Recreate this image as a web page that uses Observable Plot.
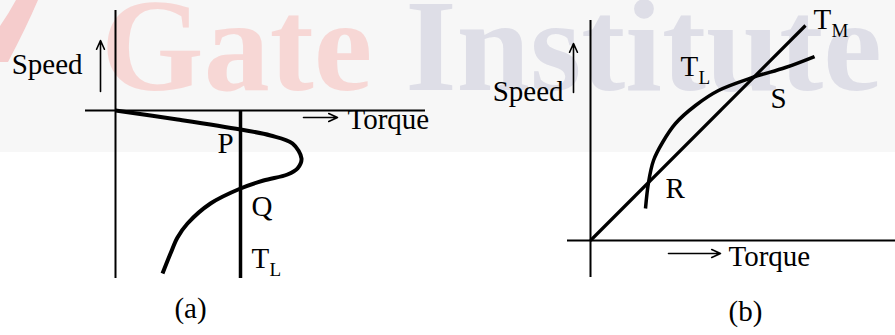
<!DOCTYPE html>
<html>
<head>
<meta charset="utf-8">
<script src="https://cdn.jsdelivr.net/npm/d3@7"></script>
<script src="https://cdn.jsdelivr.net/npm/@observablehq/plot@0.6"></script>
<style>
  html, body { margin: 0; padding: 0; background: #fff; }
  #figure { position: relative; width: 895px; height: 335px; overflow: hidden; }
  #figure > * { position: absolute; top: 0; }
  #figure svg text { font-family: "Liberation Serif", "Times New Roman", serif !important; }
</style>
</head>
<body>
<div id="figure">
  <svg id="backdrop" width="895" height="335" style="left:0">
    <rect width="895" height="152" fill="#f7f7f7"></rect>
    <path d="M16 0 L38 0 Q26 28 8 62 L0 62 L0 26 Q9 13 16 0 Z" fill="#f5cccc"></path>
    <text x="101" y="90" font-weight="bold" font-size="132"><tspan fill="#f7d7d5">Gate</tspan><tspan fill="#dedee7"> Institute</tspan></text>
  </svg>
</div>
<script>
// ---------- Panel (a): motor characteristic crossing a constant load torque ----------
const curveATorque = [0, 6.2, 12.5, 15.5, 17.7, 18.6, 18.2, 17.2, 14.8, 12.5, 9.5, 7.2, 6.2, 5.5, 4.7];
const curveASpeed  = [0, -0.9, -1.9, -2.5, -3.3, -4.8, -5.8, -6.4, -7.0, -7.8, -9.3, -11.3, -12.7, -14.3, -16.3];
const loadTorqueA = 12.5;
const axisATorque = [-3, 31];
const axisASpeed  = [-16.8, 10];

// ---------- Panel (b): straight motor line T_M against a curved load T_L ----------
const motorTorqueB = [0, 21.5];
const motorSpeedB  = [0, 21.5];
const curveBTorque = [5.5, 5.8, 6.3, 7.2, 8.5, 10.5, 12.8, 16.2, 19.5, 22.4];
const curveBSpeed  = [3.2, 5.8, 8.0, 9.8, 11.7, 13.5, 15.0, 16.3, 17.3, 18.4];
const axisBTorque = [-2.3, 30.5];
const axisBSpeed  = [-3.7, 22];

// Labels: text, subscript, torque, speed
const labelsA = [
  {text: "P", sub: "", torque: 10.2, speed: -4.2},
  {text: "Q", sub: "", torque: 13.6, speed: -10.5},
  {text: "T", sub: "L", torque: 13.6, speed: -15.7},
  {text: "Torque", sub: "", torque: 23.2, speed: -1.8}
];
const speedLabelA = [{text: "Speed", torque: -3.3, speed: 3.7}];
const captionA = [{text: "(a)", torque: 7.5, speed: -20.7}];
const arrowsA = [
  {x1: -1.5, y1: 1.9, x2: -1.5, y2: 7.0},
  {x1: 18.8, y1: -0.7, x2: 22.2, y2: -0.7}
];

const labelsB = [
  {text: "T", sub: "M", torque: 22.3, speed: 21.2},
  {text: "T", sub: "L", torque: 9.0, speed: 16.5},
  {text: "S", sub: "", torque: 18.0, speed: 13.3},
  {text: "R", sub: "", torque: 7.5, speed: 4.3},
  {text: "Torque", sub: "", torque: 13.8, speed: -2.5}
];
const speedLabelB = [{text: "Speed", torque: -2.7, speed: 14.0}];
const captionB = [{text: "(b)", torque: 15.5, speed: -8.0}];
const arrowsB = [
  {x1: -1.7, y1: 14.8, x2: -1.7, y2: 19.7},
  {x1: 7.8, y1: -1.3, x2: 13.0, y2: -1.3}
];

const font = "Liberation Serif";
const pts = (xs, ys) => xs.map((t, i) => ({torque: t, speed: ys[i]}));

function textMarks(rows, anchor) {
  return [
    Plot.text(rows, {x: "torque", y: "speed", text: "text", textAnchor: anchor, lineAnchor: "bottom",
      fontFamily: font, fontSize: 29, fill: "#000"}),
    Plot.text(rows.filter(d => d.sub), {x: "torque", y: "speed", text: "sub", textAnchor: "start",
      lineAnchor: "bottom", dx: 18, dy: 8, fontFamily: font, fontSize: 19, fill: "#000"})
  ];
}

function axesMarks(torqueExtent, speedExtent) {
  return [
    Plot.ruleX([0], {y1: speedExtent[0], y2: speedExtent[1], stroke: "#000", strokeWidth: 2}),
    Plot.ruleY([0], {x1: torqueExtent[0], x2: torqueExtent[1], stroke: "#000", strokeWidth: 2})
  ];
}

function arrowMarks(rows) {
  return Plot.arrow(rows, {x1: "x1", y1: "y1", x2: "x2", y2: "y2", stroke: "#000",
    strokeWidth: 1.6, headLength: 9, headAngle: 48});
}

function panel(width, xDomain, yDomain, marks) {
  return Plot.plot({
    width, height: 335, margin: 0,
    x: {domain: xDomain, axis: null},
    y: {domain: yDomain, axis: null},
    style: {background: "transparent", overflow: "visible", fontFamily: "Liberation Serif, serif"},
    marks
  });
}

const plotA = panel(445, [-11.5, 33], [-22.5, 11], [
  ...axesMarks(axisATorque, axisASpeed),
  Plot.ruleX([loadTorqueA], {y1: axisASpeed[0], y2: 0, stroke: "#000", strokeWidth: 3.5}),
  Plot.line(pts(curveATorque, curveASpeed), {x: "torque", y: "speed", curve: "catmull-rom",
    stroke: "#000", strokeWidth: 4, strokeLinecap: "butt"}),
  arrowMarks(arrowsA),
  ...textMarks(labelsA, "start"),
  ...textMarks(speedLabelA, "end"),
  ...textMarks(captionA, "middle")
]);

const plotB = panel(450, [-14.5, 30.5], [-9.5, 24], [
  ...axesMarks(axisBTorque, axisBSpeed),
  Plot.line(pts(motorTorqueB, motorSpeedB), {x: "torque", y: "speed", stroke: "#000", strokeWidth: 3.2,
    strokeLinecap: "butt"}),
  Plot.line(pts(curveBTorque, curveBSpeed), {x: "torque", y: "speed", curve: "catmull-rom",
    stroke: "#000", strokeWidth: 3.5, strokeLinecap: "butt"}),
  arrowMarks(arrowsB),
  ...textMarks(labelsB, "start"),
  ...textMarks(speedLabelB, "end"),
  ...textMarks(captionB, "middle")
]);

plotA.style.left = "0px";
plotB.style.left = "445px";
const fig = document.getElementById("figure");
fig.appendChild(plotA);
fig.appendChild(plotB);
</script>
</body>
</html>
